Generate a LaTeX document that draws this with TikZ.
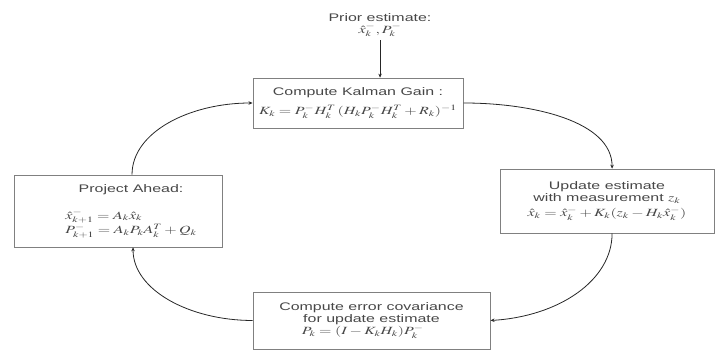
\documentclass[tikz,border=0pt]{standalone}
\usepackage{mathptmx}
\usepackage{fontspec}
\setmainfont{Liberation Sans}
\usetikzlibrary{arrows.meta,calc}

\begin{document}
\begin{tikzpicture}[x=0.6897pt, y=-1pt, xscale=1.45,
    every node/.style={transform shape, font=\fontsize{11}{12}\selectfont, text=black!72},
    stage/.style={draw=black!50, line width=0.7pt, align=center, inner sep=2pt},
    cycle/.style={draw=black!85, line width=0.8pt, -{Stealth[length=4pt,width=3.5pt]}}]
    \useasboundingbox (0,0) rectangle (716,353);

    % Vorabschaetzung
    \node[align=center] (prior) at (380,25) {Prior estimate:\\$\hat{x}_k^-, P_k^-$};

    % Die vier Stufen des Filters
    \node[stage, minimum width=144.8pt, minimum height=50pt] (gain) at (358,103)
        {Compute Kalman Gain :\\[7pt]$K_k = P_k^- H_k^T\,(H_k P_k^- H_k^T + R_k)^{-1}$};
    \node[stage, minimum width=147.6pt, minimum height=64pt] (update) at (607,201)
        {Update estimate\\with measurement $z_k$\\[3pt]$\hat{x}_k = \hat{x}_k^- + K_k(z_k - H_k\hat{x}_k^-)$};
    \node[stage, minimum width=163.4pt, minimum height=57pt] (error) at (371.5,320.5)
        {Compute error covariance\\for update estimate\\$P_k = (I - K_k H_k)P_k^-$\hspace*{12pt}};
    \node[stage, minimum width=143.4pt, minimum height=72pt] (project) at (118,211)
        {\hspace*{18pt}\begin{tabular}{@{}c@{}}Project Ahead:\\[14pt]
        $\begin{array}{@{}l@{}}\hat{x}_{k+1}^- = A_k\hat{x}_k\\[2pt] P_{k+1}^- = A_k P_k A_k^T + Q_k\end{array}$\end{tabular}};

    % Kreislauf
    \draw[cycle] (prior.south) -- (prior.south |- gain.north);
    \draw[cycle] (gain.east) to[out=0, in=90] ($(update.north)+(5,0)$);
    \draw[cycle] ($(update.south)+(5,0)$) to[out=270, in=5] (error.east);
    \draw[cycle] (error.west) to[out=180, in=270] ($(project.south)+(15,0)$);
    \draw[cycle] ($(project.north)+(14,0)$) to[out=90, in=180] (gain.west);
\end{tikzpicture}
\end{document}
